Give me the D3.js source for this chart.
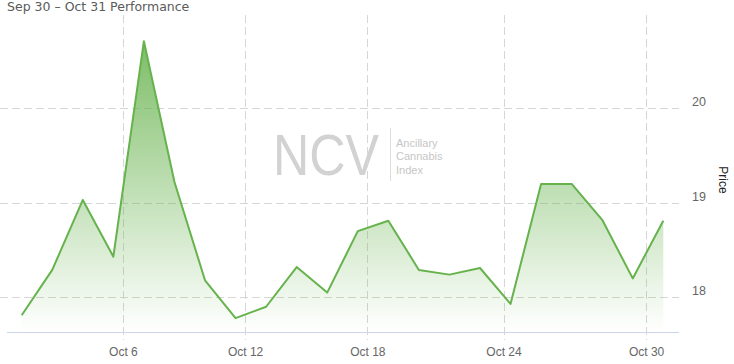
<!DOCTYPE html>
<html>
<head>
<meta charset="utf-8">
<script src="https://cdn.jsdelivr.net/npm/d3@7"></script>
<style>
  html, body { margin: 0; padding: 0; background: #fff; }
  svg { display: block; }
</style>
</head>
<body>
<svg id="canvas" width="734" height="364"></svg>
<script>
'use strict';

/* trading days shown in the chart (closing prices) */
const dates = [
  '2016-09-30', '2016-10-03', '2016-10-04', '2016-10-05', '2016-10-06',
  '2016-10-07', '2016-10-10', '2016-10-11', '2016-10-12', '2016-10-13',
  '2016-10-14', '2016-10-17', '2016-10-18', '2016-10-19', '2016-10-20',
  '2016-10-21', '2016-10-24', '2016-10-25', '2016-10-26', '2016-10-27',
  '2016-10-28', '2016-10-31'
];
const prices = [
  17.81, 18.29, 19.03, 18.43, 20.71, 19.22, 18.18, 17.78, 17.90, 18.32,
  18.05, 18.70, 18.81, 18.29, 18.24, 18.31, 17.93, 19.20, 19.20, 18.82,
  18.20, 18.81
];
/* labels of the x axis */
const tickDates = ['2016-10-06', '2016-10-12', '2016-10-18', '2016-10-24', '2016-10-30'];
const yTicks = [18, 19, 20];

const titleText = 'Sep 30 \u2013 Oct 31 Performance';
const yTitle = 'Price';

/* plot area, in pixels */
const margin = {top: 15, left: 7, right: 679, bottom: 332};
const firstX = 21.7, lastX = 663.3;

const svg = d3.select('svg#canvas');

/* points are stored at market close, ticks at midnight */
const times = dates.map(d => new Date(d + 'T16:30:00'));
const tickTimes = tickDates.map(d => new Date(d + 'T00:00:00'));

/* ordinal time axis: every trading day takes the same width */
const step = (lastX - firstX) / (times.length - 1);
const x = d3.scaleTime()
  .domain(times)
  .range(times.map((t, i) => firstX + i * step));

const y = d3.scaleLinear()
  .domain([17.633, 20.987])
  .range([margin.bottom, margin.top]);

/* gradient used below the line */
const defs = svg.append('defs');
const grad = defs.append('linearGradient')
  .attr('id', 'areaFill')
  .attr('gradientUnits', 'userSpaceOnUse')
  .attr('x1', 0).attr('x2', 0)
  .attr('y1', y(d3.max(prices))).attr('y2', margin.bottom);
grad.append('stop').attr('offset', 0).attr('stop-color', '#66b24c').attr('stop-opacity', 0.85);
grad.append('stop').attr('offset', 1).attr('stop-color', '#66b24c').attr('stop-opacity', 0);

/* watermark */
const wm = svg.append('g').attr('id', 'watermark');
wm.append('text')
  .attr('x', 273).attr('y', 175)
  .attr('textLength', 106)
  .attr('lengthAdjust', 'spacingAndGlyphs')
  .style('font-family', 'Liberation Sans, Arial, sans-serif')
  .style('font-size', '57px')
  .style('fill', '#d2d2d2')
  .text('NCV');
wm.append('line')
  .attr('x1', 390.5).attr('x2', 390.5)
  .attr('y1', 128).attr('y2', 181)
  .style('stroke', '#dcdcdc');
['Ancillary', 'Cannabis', 'Index'].forEach((w, i) => {
  wm.append('text')
    .attr('x', 396).attr('y', 147 + i * 13.4)
    .style('font-family', 'Liberation Sans, Arial, sans-serif')
    .style('font-size', '11px')
    .style('fill', '#c6c6c6')
    .text(w);
});

/* horizontal grid */
svg.append('g').attr('id', 'y-grid')
  .selectAll('line').data(yTicks).enter().append('line')
  .attr('x1', 0).attr('x2', margin.right)
  .attr('y1', d => Math.round(y(d)) + 0.5).attr('y2', d => Math.round(y(d)) + 0.5)
  .style('stroke', '#d6d6d6')
  .style('stroke-dasharray', '8,4');

/* vertical grid, running a little below the axis line */
svg.append('g').attr('id', 'x-grid')
  .selectAll('line').data(tickTimes).enter().append('line')
  .attr('x1', d => Math.round(x(d)) + 0.5).attr('x2', d => Math.round(x(d)) + 0.5)
  .attr('y1', margin.top).attr('y2', margin.bottom + 8)
  .style('stroke', '#d6d6d6')
  .style('stroke-dasharray', '8,4');

/* area and line */
const series = times.map((t, i) => ({t: t, v: prices[i]}));
svg.append('path')
  .datum(series)
  .attr('d', d3.area().x(d => x(d.t)).y0(margin.bottom).y1(d => y(d.v)))
  .style('fill', 'url(#areaFill)');
svg.append('path')
  .datum(series)
  .attr('d', d3.line().x(d => x(d.t)).y(d => y(d.v)))
  .style('fill', 'none')
  .style('stroke', '#66b24c')
  .style('stroke-width', 2)
  .style('stroke-linejoin', 'round');

/* x axis */
svg.append('line')
  .attr('x1', margin.left).attr('x2', margin.right)
  .attr('y1', margin.bottom + 0.5).attr('y2', margin.bottom + 0.5)
  .style('stroke', '#ccd6eb');
const xAxis = svg.append('g')
  .attr('id', 'bottom-axis')
  .attr('transform', 'translate(0,' + margin.bottom + ')')
  .call(d3.axisBottom(x).tickValues(tickTimes).tickFormat(d3.timeFormat('%b %-d')).tickSize(0).tickPadding(15));
xAxis.select('.domain').remove();
xAxis.selectAll('text')
  .style('font-family', 'Liberation Sans, Arial, sans-serif')
  .style('font-size', '12px')
  .style('fill', '#666');

/* y axis on the right */
const yAxis = svg.append('g')
  .attr('id', 'right-axis')
  .attr('transform', 'translate(692,0)')
  .call(d3.axisRight(y).tickValues(yTicks).tickFormat(d3.format('d')).tickSize(0).tickPadding(0));
yAxis.select('.domain').remove();
yAxis.selectAll('text')
  .attr('dy', -2.5)
  .style('font-family', 'Liberation Sans, Arial, sans-serif')
  .style('font-size', '12.5px')
  .style('fill', '#666');

svg.append('text')
  .attr('transform', 'translate(719,180) rotate(90)')
  .style('text-anchor', 'middle')
  .style('font-family', 'Liberation Sans, Arial, sans-serif')
  .style('font-size', '12px')
  .style('fill', '#222')
  .text(yTitle);

/* title */
svg.append('text')
  .attr('x', 7).attr('y', 11)
  .style('font-family', 'DejaVu Sans, sans-serif')
  .style('font-size', '12.5px')
  .style('fill', '#5a5a5a')
  .text(titleText);
</script>
</body>
</html>
